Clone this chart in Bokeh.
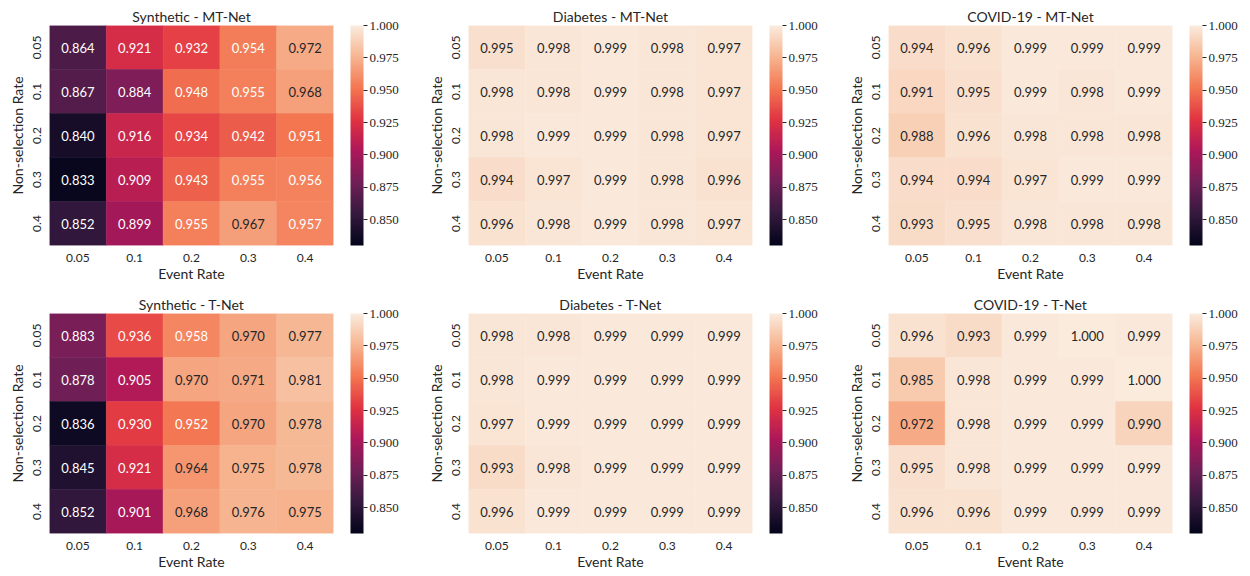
import math
from bokeh.plotting import figure
from bokeh.models import (ColumnDataSource, LinearColorMapper, ColorBar,
                          FixedTicker, PrintfTickFormatter)
from bokeh.layouts import column, row
from bokeh.embed import file_html
from bokeh.resources import INLINE
from bokeh.core.properties import value

# ---------------- data ----------------
event_rates = ["0.05", "0.1", "0.2", "0.3", "0.4"]
nonsel_rates = ["0.05", "0.1", "0.2", "0.3", "0.4"]

synthetic_mtnet = [
    [0.864, 0.921, 0.932, 0.954, 0.972],
    [0.867, 0.884, 0.948, 0.955, 0.968],
    [0.840, 0.916, 0.934, 0.942, 0.951],
    [0.833, 0.909, 0.943, 0.955, 0.956],
    [0.852, 0.899, 0.955, 0.967, 0.957],
]
diabetes_mtnet = [
    [0.995, 0.998, 0.999, 0.998, 0.997],
    [0.998, 0.998, 0.999, 0.998, 0.997],
    [0.998, 0.999, 0.999, 0.998, 0.997],
    [0.994, 0.997, 0.999, 0.998, 0.996],
    [0.996, 0.998, 0.999, 0.998, 0.997],
]
covid_mtnet = [
    [0.994, 0.996, 0.999, 0.999, 0.999],
    [0.991, 0.995, 0.999, 0.998, 0.999],
    [0.988, 0.996, 0.998, 0.998, 0.998],
    [0.994, 0.994, 0.997, 0.999, 0.999],
    [0.993, 0.995, 0.998, 0.998, 0.998],
]
synthetic_tnet = [
    [0.883, 0.936, 0.958, 0.970, 0.977],
    [0.878, 0.905, 0.970, 0.971, 0.981],
    [0.836, 0.930, 0.952, 0.970, 0.978],
    [0.845, 0.921, 0.964, 0.975, 0.978],
    [0.852, 0.901, 0.968, 0.976, 0.975],
]
diabetes_tnet = [
    [0.998, 0.998, 0.999, 0.999, 0.999],
    [0.998, 0.999, 0.999, 0.999, 0.999],
    [0.997, 0.999, 0.999, 0.999, 0.999],
    [0.993, 0.998, 0.999, 0.999, 0.999],
    [0.996, 0.999, 0.999, 0.999, 0.999],
]
covid_tnet = [
    [0.996, 0.993, 0.999, 1.000, 0.999],
    [0.985, 0.998, 0.999, 0.999, 1.000],
    [0.972, 0.998, 0.999, 0.999, 0.990],
    [0.995, 0.998, 0.999, 0.999, 0.999],
    [0.996, 0.996, 0.999, 0.999, 0.999],
]
colorbar_ticks = [0.850, 0.875, 0.900, 0.925, 0.950, 0.975, 1.000]

# ---------------- style ----------------
VMIN, VMAX = 0.83, 1.0
ROCKET_KEYS = ["#03051a", "#35193e", "#701f57", "#ad1759",
               "#e13342", "#f37651", "#f6b48f", "#faebdd"]
TXT = "#262626"
SANS = "Lato"
SERIF = "Liberation Serif"


def hex2rgb(h):
    return tuple(int(h[i:i + 2], 16) for i in (1, 3, 5))


def build_palette(n=256):
    keys = [hex2rgb(k) for k in ROCKET_KEYS]
    m = len(keys) - 1
    out = []
    for i in range(n):
        t = i / (n - 1) * m
        j = min(int(t), m - 1)
        f = t - j
        c = [round(keys[j][k] + (keys[j + 1][k] - keys[j][k]) * f) for k in range(3)]
        out.append("#%02x%02x%02x" % tuple(c))
    return out


PALETTE = build_palette()
mapper = LinearColorMapper(palette=PALETTE, low=VMIN, high=VMAX)


def text_color(v):
    n = len(PALETTE)
    idx = int(math.floor((v - VMIN) / (VMAX - VMIN) * n))
    idx = max(0, min(n - 1, idx))
    rgb = hex2rgb(PALETTE[idx])
    lin = []
    for c in rgb:
        c = c / 255
        lin.append(c / 12.92 if c <= 0.03928 else ((c + 0.055) / 1.055) ** 2.4)
    lum = 0.2126 * lin[0] + 0.7152 * lin[1] + 0.0722 * lin[2]
    return TXT if lum > 0.408 else "#ffffff"


def panel(title, vals, width, height, top, right, bottom):
    xs, ys, vs, labels, tcs = [], [], [], [], []
    for i, nr in enumerate(nonsel_rates):
        for j, er in enumerate(event_rates):
            v = vals[i][j]
            xs.append(er)
            ys.append(nr)
            vs.append(v)
            labels.append("%.3f" % v)
            tcs.append(text_color(v))
    src = ColumnDataSource(dict(x=xs, y=ys, v=vs, label=labels, tc=tcs))

    p = figure(width=width, height=height,
               x_range=event_rates, y_range=list(reversed(nonsel_rates)),
               output_backend="svg", toolbar_location=None,
               min_border_left=49, min_border_right=right,
               min_border_top=top, min_border_bottom=bottom)
    p.title.text = title
    p.title.align = "center"
    p.title.text_font = SANS
    p.title.text_font_size = "14px"
    p.title.text_font_style = "normal"
    p.title.text_color = TXT
    p.title.standoff = 1

    p.rect(x="x", y="y", width=1, height=1, source=src,
           fill_color={"field": "v", "transform": mapper},
           line_color={"field": "v", "transform": mapper}, line_width=0.5)
    p.text(x="x", y="y", text="label", source=src, text_color="tc",
           text_align="center", text_baseline="middle",
           text_font=value(SANS), text_font_size="13px")

    p.xgrid.visible = False
    p.ygrid.visible = False
    p.outline_line_color = None
    p.xaxis.axis_label = "Event Rate"
    p.yaxis.axis_label = "Non-selection Rate"
    for ax in (p.xaxis[0], p.yaxis[0]):
        ax.axis_line_color = None
        ax.major_tick_line_color = None
        ax.minor_tick_line_color = None
        ax.major_tick_out = 0
        ax.major_tick_in = 0
        ax.major_label_text_font = SANS
        ax.major_label_text_font_size = "12px"
        ax.major_label_text_color = TXT
        ax.axis_label_text_font = SANS
        ax.axis_label_text_font_size = "14px"
        ax.axis_label_text_font_style = "normal"
        ax.axis_label_text_color = TXT
    p.xaxis.major_label_standoff = 8
    p.xaxis.axis_label_standoff = 0
    p.yaxis.major_label_standoff = 9
    p.yaxis.axis_label_standoff = 4
    p.yaxis.major_label_orientation = "vertical"

    cb = ColorBar(color_mapper=mapper,
                  ticker=FixedTicker(ticks=colorbar_ticks),
                  formatter=PrintfTickFormatter(format="%.3f"),
                  width=13, height=220, padding=0, margin=0,
                  location=(17, 0),
                  major_label_text_font=SERIF,
                  major_label_text_font_size="13px",
                  major_label_text_color=TXT,
                  major_tick_out=4, major_tick_in=0,
                  major_tick_line_color=TXT,
                  minor_tick_line_color=None,
                  label_standoff=2,
                  bar_line_color=None, border_line_color=None,
                  background_fill_color=None)
    p.add_layout(cb, "right")
    return p


H1, H2 = 290, 284
T1, T2 = 25, 23
B1, B2 = 45, 41
W = [419, 420, 408]
R = [86, 87, 75]
r1 = row(panel("Synthetic - MT-Net", synthetic_mtnet, W[0], H1, T1, R[0], B1),
         panel("Diabetes - MT-Net", diabetes_mtnet, W[1], H1, T1, R[1], B1),
         panel("COVID-19 - MT-Net", covid_mtnet, W[2], H1, T1, R[2], B1))
r2 = row(panel("Synthetic - T-Net", synthetic_tnet, W[0], H2, T2, R[0], B2),
         panel("Diabetes - T-Net", diabetes_tnet, W[1], H2, T2, R[1], B2),
         panel("COVID-19 - T-Net", covid_tnet, W[2], H2, T2, R[2], B2))
layout = column(r1, r2)

open("out.html", "w").write(file_html(layout, INLINE))
